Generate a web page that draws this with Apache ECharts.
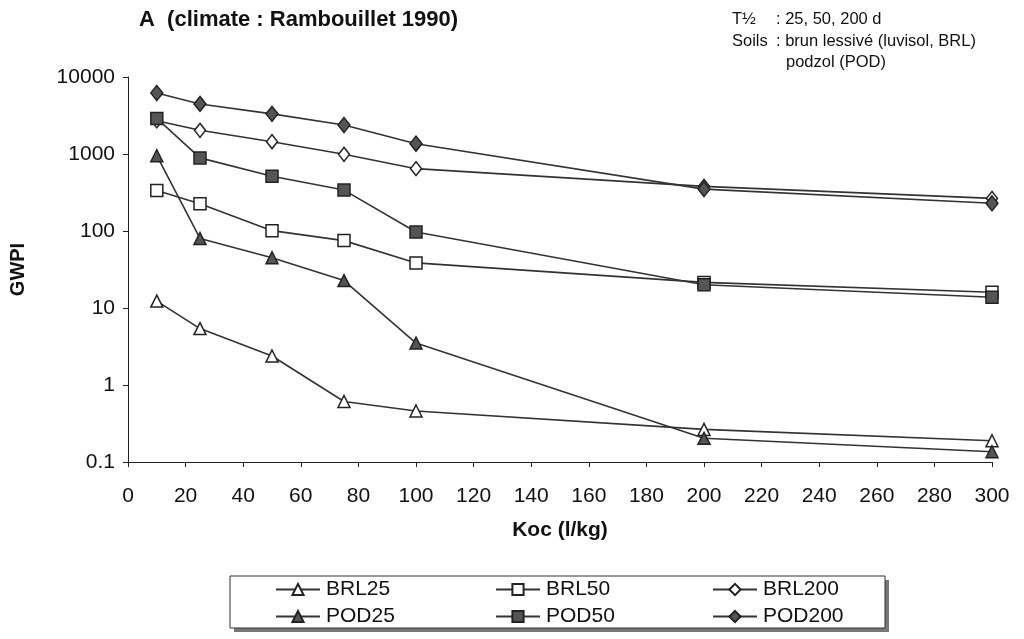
<!DOCTYPE html>
<html>
<head>
<meta charset="utf-8">
<script src="https://cdn.jsdelivr.net/npm/echarts@6/dist/echarts.min.js"></script>
<style>
  html, body { margin: 0; padding: 0; background: #fff; }
  #chart { width: 1024px; height: 639px; }
</style>
</head>
<body>
<div id="chart"></div>
<script>
// Koc values (l/kg) on the x axis
const koc = [10, 25, 50, 75, 100, 200, 300];

// GWPI per soil and half-life
const brl25  = [12.3, 5.4, 2.38, 0.61, 0.46, 0.265, 0.189];
const brl50  = [335, 226, 101, 75, 38.5, 21.5, 16];
const brl200 = [2700, 2030, 1445, 990, 645, 380, 265];
const pod25  = [950, 80, 45, 22.7, 3.5, 0.203, 0.136];
const pod50  = [2900, 890, 515, 340, 97, 20, 13.8];
const pod200 = [6200, 4470, 3320, 2380, 1360, 350, 229];

const seriesNames = ['BRL25', 'BRL50', 'BRL200', 'POD25', 'POD50', 'POD200'];
const yTickLabels = ['0.1', '1', '10', '100', '1000', '10000'];

const FONT = '"Liberation Sans", Arial, sans-serif';
const LINE = '#333';
const FILL = '#555';

function pairs(vals) { return koc.map((k, i) => [k, vals[i]]); }

function makeSeries(name, vals, symbol, size, filled) {
  return {
    name: name,
    type: 'line',
    data: pairs(vals),
    symbol: symbol,
    symbolSize: size,
    showAllSymbol: true,
    lineStyle: { color: LINE, width: 1.6 },
    itemStyle: { color: filled ? FILL : '#fff', borderColor: '#222', borderWidth: 1.5, opacity: 1 },
    emphasis: { disabled: true },
    animation: false
  };
}

// one legend block per entry so the columns line up
const legendCols = [275, 495, 712];
const legendRows = [590, 617];
const legends = seriesNames.map((n, i) => ({
  data: [n],
  left: legendCols[i % 3],
  top: legendRows[Math.floor(i / 3)] - 11,
  padding: 0,
  itemWidth: 44,
  itemHeight: 14,
  itemGap: 0,
  selectedMode: false,
  textStyle: { fontFamily: FONT, fontSize: 21, color: '#111', padding: [0, 0, 0, 1] }
}));

const chart = echarts.init(document.getElementById('chart'), null, { renderer: 'canvas' });
chart.setOption({
  backgroundColor: '#fff',
  animation: false,
  title: {
    text: 'A  (climate : Rambouillet 1990)',
    left: 139,
    top: 9,
    padding: 0,
    textStyle: { fontFamily: FONT, fontSize: 22, fontWeight: 'bold', color: '#111' }
  },
  legend: legends,
  grid: { left: 123, right: 32, top: 77, bottom: 177, containLabel: false },
  xAxis: {
    type: 'value',
    min: 0,
    max: 300,
    interval: 20,
    name: 'Koc (l/kg)',
    nameLocation: 'middle',
    nameGap: 58,
    nameTextStyle: { fontFamily: FONT, fontSize: 21, fontWeight: 'bold', color: '#111' },
    axisLine: { show: true, onZero: false, lineStyle: { color: '#222', width: 1 } },
    axisTick: { show: true, inside: false, length: 5, lineStyle: { color: '#222' } },
    axisLabel: { fontFamily: FONT, fontSize: 21, color: '#111', margin: 24 },
    splitLine: { show: false }
  },
  yAxis: {
    type: 'log',
    logBase: 10,
    min: 0.1,
    max: 10000,
    name: 'GWPI',
    nameLocation: 'middle',
    nameGap: 100,
    nameRotate: 90,
    nameTextStyle: { fontFamily: FONT, fontSize: 20, fontWeight: 'bold', color: '#111' },
    axisLine: { show: true, lineStyle: { color: '#222', width: 1 } },
    axisTick: { show: true, inside: false, length: 5, lineStyle: { color: '#222' } },
    axisLabel: {
      fontFamily: FONT, fontSize: 21, color: '#111', margin: 13,
      formatter: function (v) {
        const e = Math.round(Math.log10(v));
        return yTickLabels[e + 1] !== undefined ? yTickLabels[e + 1] : String(v);
      }
    },
    splitLine: { show: false }
  },
  graphic: [
    // legend frame with its drop shadow
    { type: 'rect', z: -2, shape: { x: 234, y: 580, width: 655, height: 52 }, style: { fill: '#777' } },
    { type: 'rect', z: -1, shape: { x: 230, y: 576, width: 655, height: 52 }, style: { fill: '#fff', stroke: '#333', lineWidth: 1 } },
    // parameter notes, top right
    { type: 'text', left: 732, top: 11, style: { text: 'T½', font: '16.5px ' + FONT, fill: '#111' } },
    { type: 'text', left: 776, top: 11, style: { text: ': 25, 50, 200 d', font: '16.5px ' + FONT, fill: '#111' } },
    { type: 'text', left: 732, top: 33, style: { text: 'Soils', font: '16.5px ' + FONT, fill: '#111' } },
    { type: 'text', left: 776, top: 33, style: { text: ': brun lessivé (luvisol, BRL)', font: '16.5px ' + FONT, fill: '#111' } },
    { type: 'text', left: 786, top: 54, style: { text: 'podzol (POD)', font: '16.5px ' + FONT, fill: '#111' } }
  ],
  series: [
    makeSeries('BRL25', brl25, 'triangle', 12, false),
    makeSeries('BRL50', brl50, 'rect', 12, false),
    makeSeries('BRL200', brl200, 'diamond', [11, 14], false),
    makeSeries('POD25', pod25, 'triangle', 12, true),
    makeSeries('POD50', pod50, 'rect', 12, true),
    makeSeries('POD200', pod200, 'diamond', [12, 15], true)
  ]
});
</script>
</body>
</html>
